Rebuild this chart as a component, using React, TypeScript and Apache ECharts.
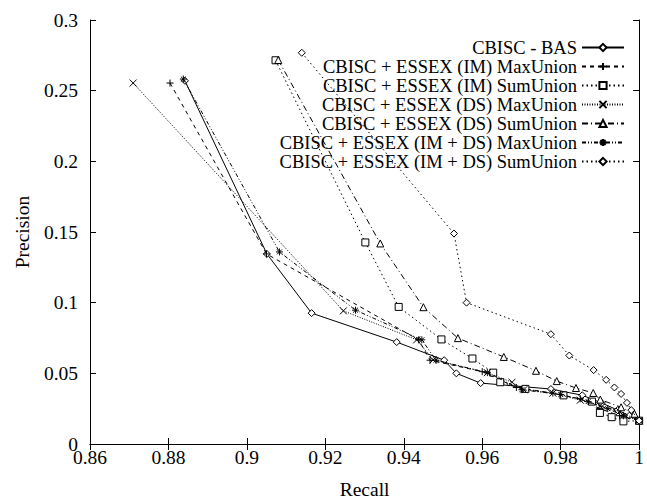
import React, { useEffect, useRef } from "react";
import * as echarts from "echarts";

const seriesNames = [
  "CBISC - BAS",
  "CBISC + ESSEX (IM) MaxUnion",
  "CBISC + ESSEX (IM) SumUnion",
  "CBISC + ESSEX (DS) MaxUnion",
  "CBISC + ESSEX (DS) SumUnion",
  "CBISC + ESSEX (IM + DS) MaxUnion",
  "CBISC + ESSEX (IM + DS) SumUnion",
];

// [recall, precision]
const bas = [
  [0.8842, 0.257], [0.9051, 0.1345], [0.9165, 0.0926], [0.9382, 0.0721], [0.9503, 0.0593],
  [0.9534, 0.05], [0.9596, 0.0431], [0.9775, 0.0389], [0.9855, 0.0345], [0.9905, 0.029],
  [0.9945, 0.024], [0.9975, 0.02], [1.0, 0.0165],
];
const imMax = [
  [0.8804, 0.2554], [0.905, 0.1345], [0.9438, 0.0737], [0.9467, 0.0593], [0.96, 0.0512],
  [0.9687, 0.04], [0.978, 0.036], [0.985, 0.032], [0.99, 0.025], [0.995, 0.02], [1.0, 0.0165],
];
const imSum = [
  [0.9073, 0.2715], [0.9302, 0.1426], [0.9387, 0.097], [0.9496, 0.074], [0.9575, 0.0605],
  [0.9628, 0.0505], [0.9646, 0.0437], [0.971, 0.039], [0.9807, 0.0344], [0.988, 0.03],
  [0.99, 0.022], [0.993, 0.019], [0.996, 0.016], [1.0, 0.0165],
];
const dsMax = [
  [0.871, 0.2554], [0.9246, 0.0942], [0.9433, 0.0737], [0.9475, 0.0595], [0.9613, 0.0505],
  [0.9676, 0.0437], [0.9706, 0.0384], [0.978, 0.036], [0.985, 0.031], [0.99, 0.027],
  [0.995, 0.023], [1.0, 0.0165],
];
const dsSum = [
  [0.908, 0.2717], [0.934, 0.1419], [0.945, 0.0968], [0.9538, 0.0749], [0.9655, 0.0616],
  [0.9737, 0.0518], [0.979, 0.0445], [0.9839, 0.0396], [0.9883, 0.0361], [0.9901, 0.0314],
  [0.9954, 0.026], [0.9988, 0.0214], [1.0, 0.0165],
];
const imdsMax = [
  [0.8838, 0.2582], [0.9083, 0.1359], [0.9277, 0.0947], [0.9446, 0.0737], [0.9482, 0.0593],
  [0.9613, 0.0505], [0.9701, 0.0384], [0.98, 0.035], [0.987, 0.03], [0.992, 0.025],
  [0.996, 0.02], [1.0, 0.0165],
];
const imdsSum = [
  [0.914, 0.2768], [0.9528, 0.1489], [0.956, 0.1], [0.9775, 0.0777], [0.9822, 0.0626],
  [0.9884, 0.0523], [0.9916, 0.0454], [0.9937, 0.04], [0.9954, 0.0354], [0.9969, 0.0291],
  [0.998, 0.024], [1.0, 0.0165],
];

const xMin = 0.86, xMax = 1, xStep = 0.02;
const yMin = 0, yMax = 0.3, yStep = 0.05;

const FONT = "'Liberation Serif', 'Times New Roman', Times, serif";
const PLUS = "path://M0,5L10,5M5,0L5,10";
const CROSS = "path://M0,0L10,10M0,10L10,0";
const STAR = "path://M0,5L10,5M5,0L5,10M1.5,1.5L8.5,8.5M1.5,8.5L8.5,1.5";

export default function App() {
  const ref = useRef<HTMLDivElement>(null);
  useEffect(() => {
    if (!ref.current) return;
    const chart = echarts.init(ref.current, undefined, { renderer: "svg" });
    const datas = [bas, imMax, imSum, dsMax, dsSum, imdsMax, imdsSum];
    const symbols = ["diamond", PLUS, "rect", CROSS, "triangle", STAR, "diamond"];
    const sizes = [7, 7, 7, 7, 7, 7, 7];
    const dashes: any[] = ["solid", [4, 4], [1.5, 3], [1, 1.5], [6, 3, 1, 3], [4, 2, 1, 2, 1, 2], [1.5, 3]];
    const series = datas.map((d, i) => ({
      name: seriesNames[i],
      type: "line",
      data: d,
      symbol: symbols[i],
      symbolSize: sizes[i],
      showSymbol: true,
      itemStyle: { color: "#fff", borderColor: "#000", borderWidth: 1 },
      lineStyle: { color: "#000", width: 1, type: dashes[i] },
      emphasis: { disabled: true },
      z: 2 + i,
    }));
    const axisCommon = {
      type: "value" as const,
      axisLine: { show: true, lineStyle: { color: "#000", width: 1 } },
      axisTick: { show: true, inside: true, length: 6, lineStyle: { color: "#000" } },
      splitLine: { show: false },
    };
    chart.setOption({
      animation: false,
      grid: { left: 90, right: 3, top: 20, bottom: 54 },
      legend: {
        orient: "vertical",
        right: 17,
        top: 33,
        align: "right",
        itemWidth: 42,
        itemHeight: 9,
        itemGap: 0,
        selectedMode: false,
        textStyle: { fontFamily: FONT, fontSize: 18.5, color: "#000", lineHeight: 17 },
        data: seriesNames,
      },
      xAxis: [
        {
          ...axisCommon,
          min: xMin, max: xMax, interval: xStep,
          position: "bottom",
          name: "Recall",
          nameLocation: "middle",
          nameGap: 35,
          nameTextStyle: { fontFamily: FONT, fontSize: 19.5, color: "#000" },
          axisLabel: { fontFamily: FONT, fontSize: 19.5, color: "#000", margin: 3 },
        },
        {
          ...axisCommon,
          min: xMin, max: xMax, interval: xStep,
          position: "top",
          axisLabel: { show: false },
        },
      ],
      yAxis: [
        {
          ...axisCommon,
          min: yMin, max: yMax, interval: yStep,
          position: "left",
          name: "Precision",
          nameLocation: "middle",
          nameGap: 53,
          nameTextStyle: { fontFamily: FONT, fontSize: 19.5, color: "#000" },
          axisLabel: { fontFamily: FONT, fontSize: 19.5, color: "#000", margin: 12 },
        },
        {
          ...axisCommon,
          min: yMin, max: yMax, interval: yStep,
          position: "right",
          axisLabel: { show: false },
        },
      ],
      series,
    });
    return () => chart.dispose();
  }, []);
  return <div ref={ref} style={{ width: 647, height: 504, position: "absolute", left: 0, top: 0 }} />;
}
